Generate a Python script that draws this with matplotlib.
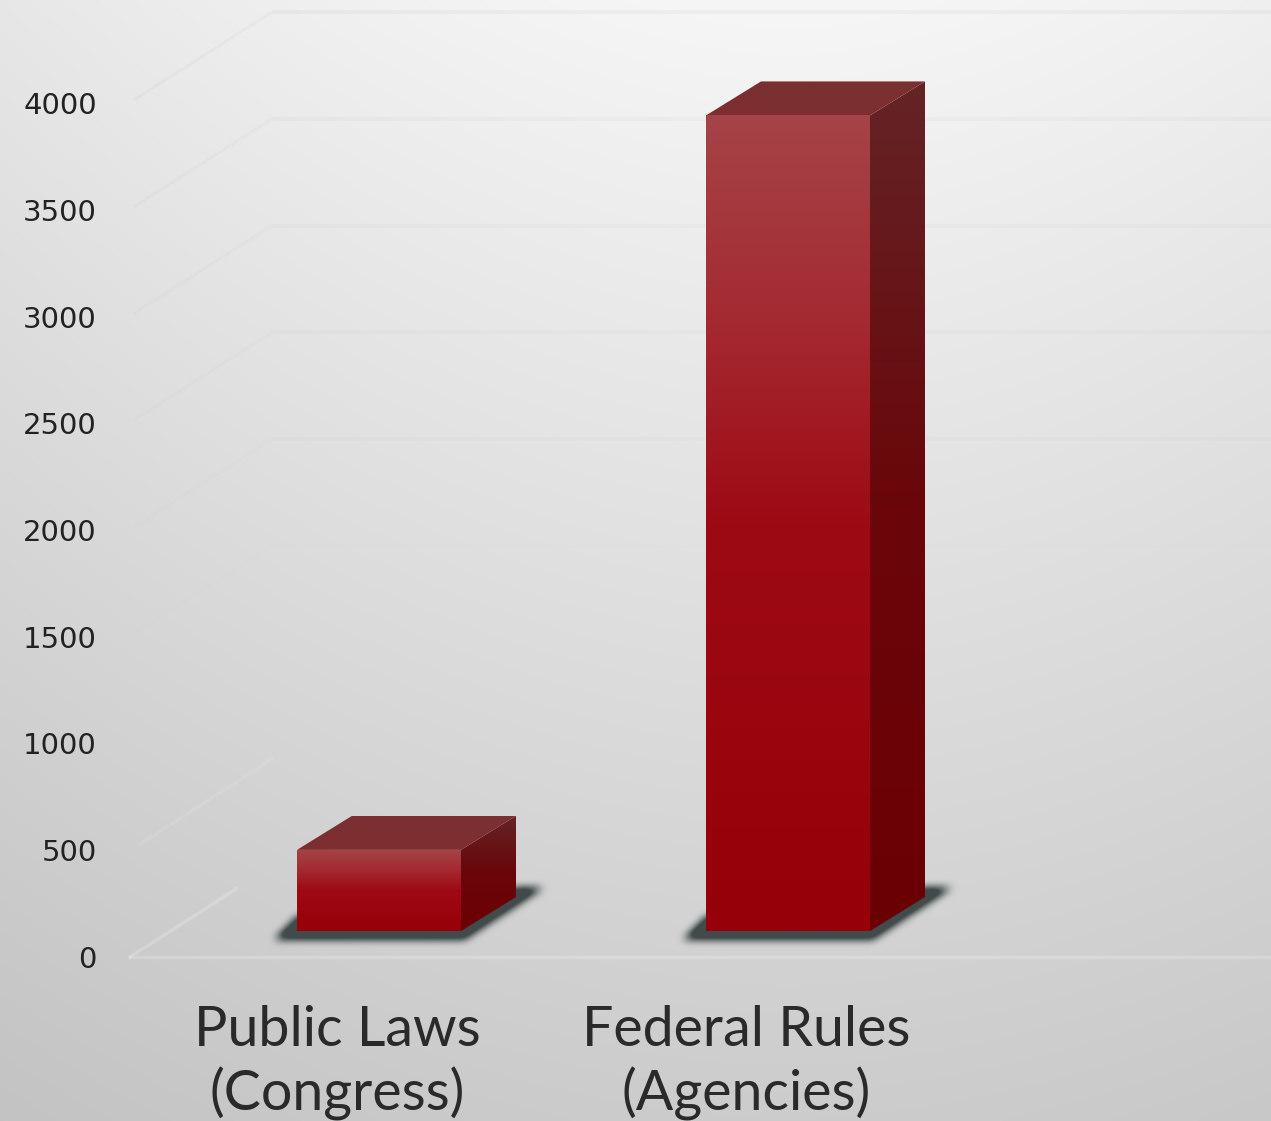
import matplotlib
matplotlib.use('Agg')
import matplotlib.pyplot as plt
import numpy as np
from matplotlib.colors import LinearSegmentedColormap
from matplotlib.patches import Polygon
from matplotlib.path import Path

categories = ['Public Laws\n(Congress)', 'Federal Rules\n(Agencies)']
values = [380, 3820]
ticks = [0, 500, 1000, 1500, 2000, 2500, 3000, 3500, 4000]

W, H = 1271, 1121
# one category step and one value unit, in pixels
STEP = 409.0
UNIT = 0.2135
PX = 1 / STEP
PY = 1 / UNIT

fig = plt.figure(figsize=(W / 100, H / 100), dpi=100)
ax = fig.add_axes([0, 0, 1, 1])
x_lo, x_hi = -379 * PX, (W - 379) * PX
y_lo, y_hi = (957 - H) * PY, 957 * PY
ax.axis('off')

# grey backdrop, brightest near the top middle
yy, xx = np.mgrid[0:1:240j, 0:1:280j]
bg = 246 - 42 * yy - 34 * np.abs(xx - 0.62) ** 1.7 * (1 - 0.4 * yy)
bg = np.clip(bg, 0, 255) / 255
ax.imshow(np.dstack([bg, bg, bg]), extent=[x_lo, x_hi, y_lo, y_hi], aspect='auto',
          origin='upper', zorder=0, interpolation='bilinear')

# walls of the 3d frame, fading out towards the floor
wall_dx = 142 * PX
wall_dy = 91 * PY
left = -249 * PX
for t in ticks:
    fade = max(t - 1000, 0) / 3000
    ax.plot([left + 4 * PX, left + wall_dx], [t + 3 * PY, t + wall_dy], color='k',
            alpha=0.022 * fade, lw=2.2, zorder=1, solid_capstyle='butt')
    ax.plot([left + wall_dx, x_hi], [t + wall_dy, t + wall_dy], color='k',
            alpha=0.03 * fade, lw=2.8, zorder=1, solid_capstyle='butt')
# lighter floor edges
ax.plot([left, left + wall_dx * 0.75], [0, wall_dy * 0.75], color='w', alpha=0.2, lw=2.4, zorder=1)
ax.plot([left + 10 * PX, left + wall_dx], [500 + 6 * PY, 500 + wall_dy], color='w', alpha=0.1, lw=2.4, zorder=1)
ax.plot([left, x_hi], [0, 0], color='w', alpha=0.2, lw=2.4, zorder=1)

front_stops = [(0, (164, 68, 72)), (0.25, (165, 42, 50)), (0.5, (158, 10, 20)), (1, (150, 0, 8))]
side_stops = [(0, (100, 36, 38)), (0.5, (106, 6, 10)), (1, (108, 0, 4))]
top_stops = [(0, (122, 48, 50)), (1, (128, 46, 48))]


def cmap_of(stops):
    return LinearSegmentedColormap.from_list('g', [(p, np.array(c) / 255) for p, c in stops])


def gradient_poly(pts, stops, y0, y1, z):
    # vertical colour ramp clipped to a polygon
    pts = np.array(pts)
    g = np.linspace(0, 1, 256).reshape(-1, 1)
    im = ax.imshow(g, cmap=cmap_of(stops), vmin=0, vmax=1, aspect='auto', origin='upper',
                   extent=[pts[:, 0].min(), pts[:, 0].max(), y0, y1], zorder=z)
    im.set_clip_path(Polygon(pts, closed=True, transform=ax.transData))


def soften(m, n):
    kernel = np.hanning(n)
    kernel /= kernel.sum()
    m = np.apply_along_axis(lambda r: np.convolve(r, kernel, mode='same'), 0, m)
    return np.apply_along_axis(lambda r: np.convolve(r, kernel, mode='same'), 1, m)


bar_w = 164 * PX
dx = 55 * PX
dy = 34 * PY
base = 26 * PY

for i, v in enumerate(values):
    x0 = i - bar_w / 2
    x1 = i + bar_w / 2
    b = base
    t = base + v

    # soft shadow on the floor, sampled about one pixel per cell
    gx = x0 + np.arange(-70, 164 + 55 + 70) * PX
    gy = b + np.arange(-40, 34 + 40) * PY
    mx, my = np.meshgrid(gx, gy)
    shape = Path([(x0 - 24 * PX, b - 9 * PY), (x1 + 2 * PX, b - 9 * PY),
                  (x1 + dx + 26 * PX, b + dy + 9 * PY), (x1 + dx, b + dy + 9 * PY),
                  (x0, b + 14 * PY)])
    m = shape.contains_points(np.c_[mx.ravel(), my.ravel()]).reshape(mx.shape).astype(float)
    m = soften(m, 23)
    rgba = np.zeros(m.shape + (4,))
    rgba[..., :3] = np.array([58, 68, 68]) / 255
    rgba[..., 3] = np.clip(m * 1.5, 0, 0.95)
    ax.imshow(rgba, extent=[gx[0], gx[-1], gy[0], gy[-1]], origin='lower', aspect='auto', zorder=2,
              interpolation='bilinear')

    gradient_poly([(x0, b), (x1, b), (x1, t), (x0, t)], front_stops, b, t, 4)
    gradient_poly([(x1, b), (x1 + dx, b + dy), (x1 + dx, t + dy), (x1, t)], side_stops, b, t + dy, 3)
    gradient_poly([(x0, t), (x1, t), (x1 + dx, t + dy), (x0 + dx, t + dy)], top_stops, t, t + dy, 3)

for t in ticks:
    ax.text(97 * PX + x_lo, t - 3 * PY, str(t), ha='right', va='center', fontsize=21,
            family='DejaVu Sans', color='#222222', zorder=6)

for i, c in enumerate(categories):
    ax.text(i - 42 * PX, -(1063 - 957) * PY, c, ha='center', va='center', fontsize=40,
            family='Lato', color='#2a2a2a', linespacing=1.24, zorder=6)

ax.set_xlim(x_lo, x_hi)
ax.set_ylim(y_lo, y_hi)
fig.savefig('out.png', dpi=100)
